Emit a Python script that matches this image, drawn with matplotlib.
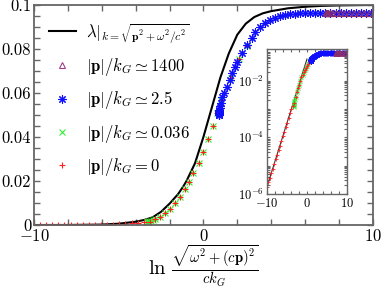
import numpy as np
import matplotlib
matplotlib.use('Agg')
import matplotlib.pyplot as plt
from matplotlib.ticker import MultipleLocator, LogLocator, NullFormatter

plt.rcParams['font.family'] = 'serif'
plt.rcParams['font.serif'] = ['cmr10']
plt.rcParams['mathtext.fontset'] = 'cm'
plt.rcParams['axes.formatter.use_mathtext'] = True

# black curve (main panel)
lam_x = [-10, -8, -6, -5, -4, -3.5, -3, -2.5, -2, -1.5, -1.2, -1, -0.5, 0,
         0.5, 1, 1.5, 2, 2.5, 3, 3.5, 4, 5, 6, 7, 8, 10]
lam_y = [0.0, 0.00003, 0.0002, 0.0006, 0.0015, 0.0023, 0.0035, 0.006, 0.0097,
         0.014, 0.0174, 0.02, 0.028, 0.04, 0.0535, 0.067, 0.078, 0.0865,
         0.0915, 0.0945, 0.0962, 0.0972, 0.0985, 0.0992, 0.0996, 0.0998, 0.1]

# black line in the inset (log scale)
ins_x = [-10, -7.5, -5, -2.5, 0]
ins_y = [1.8e-6, 2.4e-5, 3.2e-4, 4.3e-3, 0.057]

# |p|/kG = 0
red_x = [-10.0, -9.64, -9.28, -8.92, -8.56, -8.2, -7.84, -7.48, -7.12, -6.76,
         -6.4, -6.04, -5.68, -5.32, -4.96, -4.6, -4.24, -3.88, -3.52, -3.15,
         -2.85, -2.56, -2.26, -1.97, -1.67, -1.38, -1.08, -0.83, -0.59, -0.29,
         0.0, 0.3, 0.55, 0.79, 1.05, 1.6, 2.1, 2.55]
red_y = [1.8e-6, 2.58e-6, 3.75e-6, 5.45e-6, 7.9e-6, 1.15e-5, 1.67e-5, 2.42e-5,
         3.52e-5, 5.1e-5, 7.4e-5, 1.08e-4, 1.56e-4, 2.27e-4, 3.3e-4, 4.8e-4,
         6.95e-4, 1.01e-3, 1.3e-3, 1.6e-3,
         0.0026, 0.0038, 0.0053, 0.0071, 0.0099, 0.0129, 0.0162, 0.0197,
         0.0238, 0.0283, 0.0333, 0.039, 0.045, 0.051, 0.057, 0.067, 0.0755,
         0.0815]

# |p|/kG = 0.036
grn_x = [-3.32, -3.31, -3.3, -3.28, -3.25, -3.2, -3.12, -3.0,
         -2.85, -2.56, -2.26, -1.97, -1.67, -1.38, -1.08, -0.83, -0.59, -0.29,
         0.0, 0.3, 0.55, 0.79, 1.05, 1.6, 2.1, 2.55]
grn_y = [0.0012, 0.0013, 0.0014, 0.0015, 0.0016, 0.0017, 0.0019, 0.0022,
         0.0026, 0.0038, 0.0053, 0.0071, 0.0099, 0.0129, 0.0162, 0.0197,
         0.0238, 0.0283, 0.0333, 0.039, 0.045, 0.051, 0.057, 0.067, 0.0755,
         0.0815]

# |p|/kG = 2.5
blu_x = [0.92, 0.921, 0.923, 0.926, 0.93, 0.935, 0.945, 0.96, 0.98, 1.02,
         1.08, 1.2, 1.38, 1.58, 1.67, 1.87, 2.01, 2.26, 2.56, 2.85, 3.05,
         3.35, 3.64, 3.94, 4.23, 4.53, 4.8, 5.1, 5.4, 5.7, 6.0, 6.3, 6.6,
         6.9, 7.2, 7.5, 7.8, 8.1, 8.4, 8.7, 9.0, 9.3, 9.6, 9.9]
blu_y = [0.0498, 0.0502, 0.0506, 0.051, 0.0514, 0.0519, 0.0525, 0.0532,
         0.054, 0.0555, 0.058, 0.06, 0.0626, 0.066, 0.069, 0.072, 0.074,
         0.078, 0.082, 0.085, 0.0876, 0.09, 0.0917, 0.093, 0.094, 0.095,
         0.0955, 0.0959, 0.0961, 0.0962, 0.0963, 0.0964, 0.0964, 0.0965,
         0.0965, 0.0965, 0.0965, 0.0965, 0.0965, 0.0965, 0.0965, 0.0965,
         0.0965, 0.0965]

# |p|/kG = 1400
pur_x = [7.24, 7.25, 7.27, 7.3, 7.35, 7.45, 7.6, 7.8, 8.05, 8.3, 8.6, 8.9,
         9.2, 9.5, 9.8]
pur_y = [0.0965] * len(pur_x)

ast = (8, 2, 0)  # asterisk marker

fig = plt.figure(figsize=(3.82, 2.93), dpi=100)
ax = fig.add_axes([0.089, 0.232, 0.887, 0.751])

ax.plot(lam_x, lam_y, color='black', lw=1.5,
        label=r'$\lambda|_{k=\sqrt{\mathbf{p}^2+\omega^2/c^2}}$')
ax.plot(grn_x, grn_y, 'x', color='#33ee33', ms=4, mew=0.8, ls='none')
ax.plot(red_x, red_y, '+', color='#ff2020', ms=5, mew=0.8, ls='none')
ax.plot(blu_x, blu_y, marker=ast, color='#1010ff', ms=6, mew=0.8, ls='none')
ax.plot(pur_x, pur_y, '^', mfc='none', mec='#8b2f6b', ms=5, mew=0.8, ls='none')

# legend handles in the original order
h_pur, = ax.plot([], [], '^', mfc='none', mec='#a0408a', ms=5, mew=0.8,
                 label=r'$|\mathbf{p}|/k_G \simeq 1400$')
h_blu, = ax.plot([], [], marker=ast, color='#1010ff', ms=6, mew=0.8, ls='none',
                 label=r'$|\mathbf{p}|/k_G \simeq 2.5$')
h_grn, = ax.plot([], [], 'x', color='#33ee33', ms=4, mew=0.8,
                 label=r'$|\mathbf{p}|/k_G \simeq 0.036$')
h_red, = ax.plot([], [], '+', color='#ff2020', ms=5, mew=0.8,
                 label=r'$|\mathbf{p}|/k_G = 0$')
ax.legend(loc='upper left', bbox_to_anchor=(0.0, 0.99), frameon=False,
          fontsize=12, handlelength=1.6, labelspacing=0.68, handletextpad=0.6)

ax.set_xlim(-10, 10)
ax.set_ylim(0, 0.1)
ax.xaxis.set_major_locator(MultipleLocator(10))
ax.xaxis.set_minor_locator(MultipleLocator(2))
ax.yaxis.set_minor_locator(MultipleLocator(0.005))
ax.set_yticks([0, 0.02, 0.04, 0.06, 0.08, 0.1])
ax.set_yticklabels(['0', '0.02', '0.04', '0.06', '0.08', '0.1'])
ax.tick_params(which='both', direction='in', top=True, right=True,
               labelsize=12, color='#666666', length=4, width=1, pad=2)
for s in ax.spines.values():
    s.set_color('#666666')
    s.set_linewidth(1.3)
ax.set_xlabel(r'$\ln\,\frac{\sqrt{\omega^2+(c\mathbf{p})^2}}{ck_G}$',
              fontsize=15, labelpad=0)

# inset
axi = fig.add_axes([0.699, 0.338, 0.209, 0.495])
axi.set_yscale('log')
axi.plot(ins_x, ins_y, color='#333333', lw=0.8)
axi.plot(grn_x, grn_y, 'x', color='#33ee33', ms=3, mew=0.6, ls='none')
axi.plot(red_x, red_y, '+', color='#ff2020', ms=3.5, mew=0.6, ls='none')
axi.plot(blu_x, blu_y, marker=ast, color='#1010ff', ms=4, mew=0.7, ls='none')
axi.plot(pur_x, pur_y, '^', mfc='none', mec='#8b2f6b', ms=3.5, mew=0.6, ls='none')
axi.set_xlim(-10, 10)
axi.set_ylim(1e-6, 0.13)
axi.xaxis.set_major_locator(MultipleLocator(10))
axi.xaxis.set_minor_locator(MultipleLocator(2))
axi.set_yticks([1e-6, 1e-4, 1e-2])
axi.set_yticklabels([r'$10^{-6}$', r'$10^{-4}$', r'$10^{-2}$'])
axi.yaxis.set_minor_locator(LogLocator(base=10, subs=np.arange(1, 10), numticks=20))
axi.yaxis.set_minor_formatter(NullFormatter())
axi.tick_params(which='both', direction='in', top=True, right=True,
                labelsize=9, color='#666666', length=2.5, width=0.8, pad=2)
for s in axi.spines.values():
    s.set_color('#666666')
    s.set_linewidth(1.0)

fig.savefig('out.png', dpi=100)
